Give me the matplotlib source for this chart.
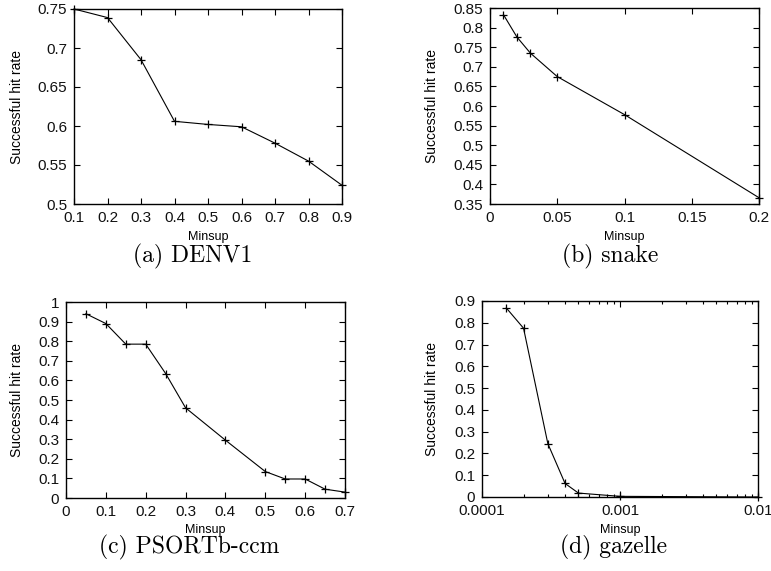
import matplotlib
matplotlib.use("Agg")
import matplotlib.pyplot as plt
from matplotlib.ticker import FuncFormatter, FixedLocator, LogLocator, NullFormatter

# panel (a) DENV1
denv_x = [0.1, 0.2, 0.3, 0.4, 0.5, 0.6, 0.7, 0.8, 0.9]
denv_y = [0.750, 0.739, 0.685, 0.606, 0.602, 0.599, 0.578, 0.555, 0.524]

# panel (b) snake
snake_x = [0.01, 0.02, 0.03, 0.05, 0.1, 0.2]
snake_y = [0.833, 0.776, 0.735, 0.675, 0.578, 0.366]

# panel (c) PSORTb-ccm
psort_x = [0.05, 0.1, 0.15, 0.2, 0.25, 0.3, 0.4, 0.5, 0.55, 0.6, 0.65, 0.7]
psort_y = [0.94, 0.89, 0.785, 0.785, 0.635, 0.46, 0.295, 0.135, 0.097, 0.097, 0.045, 0.03]

# panel (d) gazelle
gaz_x = [0.00015, 0.0002, 0.0003, 0.0004, 0.0005, 0.001, 0.01]
gaz_y = [0.868, 0.775, 0.245, 0.062, 0.018, 0.003, 0.0]

captions = ["(a) DENV1", "(b) snake", "(c) PSORTb-ccm", "(d) gazelle"]

plt.rcParams["font.family"] = ["Liberation Sans", "DejaVu Sans"]

W, H = 771, 571
fig = plt.figure(figsize=(W / 100, H / 100), dpi=100)

fmt = FuncFormatter(lambda v, p: "%g" % round(v, 6))

# axes box (left, top, right, bottom), ylabel x, xlabel y, caption x, caption baseline (pixels)
boxes = [
    ((74, 9, 342, 204), 17, 237, 193, 262),
    ((490, 8, 759, 204), 432, 237, 610, 262),
    ((66, 302, 345, 498), 17.5, 530, 189, 553),
    ((482, 301, 758, 497), 431.5, 530, 613, 553),
]

data = [
    (denv_x, denv_y, [0.1, 0.2, 0.3, 0.4, 0.5, 0.6, 0.7, 0.8, 0.9],
     [0.5, 0.55, 0.6, 0.65, 0.7, 0.75], (0.1, 0.9), (0.5, 0.75)),
    (snake_x, snake_y, [0, 0.05, 0.1, 0.15, 0.2],
     [0.35, 0.4, 0.45, 0.5, 0.55, 0.6, 0.65, 0.7, 0.75, 0.8, 0.85], (0, 0.2), (0.35, 0.85)),
    (psort_x, psort_y, [0, 0.1, 0.2, 0.3, 0.4, 0.5, 0.6, 0.7],
     [0, 0.1, 0.2, 0.3, 0.4, 0.5, 0.6, 0.7, 0.8, 0.9, 1.0], (0, 0.7), (0, 1.0)),
    (gaz_x, gaz_y, None,
     [0, 0.1, 0.2, 0.3, 0.4, 0.5, 0.6, 0.7, 0.8, 0.9], (0.0001, 0.01), (0, 0.9)),
]

for i, ((l, t, r, b), ylx, xly, capx, capy) in enumerate(boxes):
    x, y, xt, yt, xl, yl = data[i]
    ax = fig.add_axes([l / W, 1 - b / H, (r - l) / W, (b - t) / H])
    if xt is None:
        ax.set_xscale("log")
    ax.plot(x, y, color="black", linewidth=0.8, marker="+", markersize=6,
            markeredgewidth=0.9, clip_on=False)
    ax.set_xlim(*xl)
    ax.set_ylim(*yl)
    if xt is None:
        ax.xaxis.set_major_locator(FixedLocator([0.0001, 0.001, 0.01]))
        ax.xaxis.set_major_formatter(FuncFormatter(lambda v, p: "%.4f" % v if v < 0.001 else "%g" % v))
        ax.xaxis.set_minor_locator(LogLocator(base=10, subs=range(2, 10)))
        ax.xaxis.set_minor_formatter(NullFormatter())
        ax.tick_params(which="minor", direction="in", top=True, length=2.5, width=0.8)
    else:
        ax.xaxis.set_major_locator(FixedLocator(xt))
        ax.xaxis.set_major_formatter(fmt)
    ax.yaxis.set_major_locator(FixedLocator(yt))
    ax.yaxis.set_major_formatter(fmt)
    ax.tick_params(which="major", direction="in", top=True, right=True,
                   length=4, width=0.8, labelsize=11, pad=5, labelcolor="#111111")
    for s in ax.spines.values():
        s.set_linewidth(1.0)

    ax.set_xlabel("Minsup", fontsize=9, va="center")
    ax.xaxis.set_label_coords(0.5, -(xly - b) / (b - t))
    ax.set_ylabel("Successful hit rate", fontsize=10, va="center")
    ax.yaxis.set_label_coords(-(l - ylx) / (r - l), 0.5)

    fig.text(capx / W, 1 - capy / H, captions[i], ha="center", va="baseline",
             fontsize=17, family="cmr10")

fig.savefig("out.png", dpi=100)
